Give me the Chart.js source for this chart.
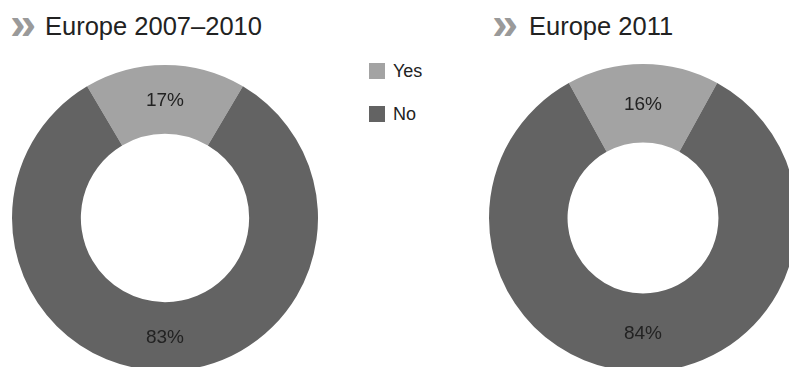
<!DOCTYPE html>
<html>
<head>
<meta charset="utf-8">
<script src="https://cdn.jsdelivr.net/npm/chart.js@4.4.1/dist/chart.umd.min.js"></script>
<style>
  html, body { margin: 0; padding: 0; background: #fff; overflow: hidden; width: 789px; height: 367px; }
  body { position: relative; font-family: "Liberation Sans", Arial, sans-serif; color: #222; }
  .chev { position: absolute; top: -1px; color: #9a9a9a; font-weight: bold; font-size: 47px; line-height: 47px; }
  .title { position: absolute; top: 13px; font-size: 25.5px; line-height: 26px; white-space: nowrap; }
  canvas { position: absolute; }
  #legend { position: absolute; left: 369px; top: 61px; font-size: 18px; }
  #legend div { height: 43px; line-height: 20px; white-space: nowrap; }
  #legend span.box { display: inline-block; width: 16px; height: 16px; vertical-align: -2px; margin-right: 8px; }
</style>
</head>
<body>
<div class="chev" style="left:10px">»</div>
<div class="title" id="t1" style="left:45px"></div>
<div class="chev" style="left:492px">»</div>
<div class="title" id="t2" style="left:529px"></div>
<div id="legend"></div>
<canvas id="chartA" width="306" height="306" style="left:12px; top:65px"></canvas>
<canvas id="chartB" width="308" height="308" style="left:489px; top:64px"></canvas>

<script>
const categories = ['Yes', 'No'];
const colors = ['#a3a3a3', '#636363'];
const titles = ['Europe 2007–2010', 'Europe 2011'];
const europe2007 = [17, 83];
const europe2011 = [16, 84];

document.getElementById('t1').textContent = titles[0];
document.getElementById('t2').textContent = titles[1];

// legend shared by both doughnuts
const legend = document.getElementById('legend');
categories.forEach(function(c, i) {
  const row = document.createElement('div');
  row.innerHTML = '<span class="box" style="background:' + colors[i] + '"></span>' + c;
  legend.appendChild(row);
});

// percent labels in the middle of each ring segment
const sliceLabels = {
  id: 'sliceLabels',
  afterDatasetsDraw(chart) {
    const ctx = chart.ctx;
    const meta = chart.getDatasetMeta(0);
    const values = chart.data.datasets[0].data;
    ctx.save();
    ctx.font = '19px "Liberation Sans", Arial, sans-serif';
    ctx.fillStyle = '#222';
    ctx.textAlign = 'center';
    ctx.textBaseline = 'middle';
    meta.data.forEach(function(arc, i) {
      const p = arc.tooltipPosition();
      ctx.fillText(values[i] + '%', p.x, p.y + 1);
    });
    ctx.restore();
  }
};

function makeDoughnut(id, values, cutout) {
  const yes = values[0] / (values[0] + values[1]) * 360;
  return new Chart(document.getElementById(id), {
    type: 'doughnut',
    data: {
      labels: categories,
      datasets: [{
        data: values,
        backgroundColor: colors,
        borderWidth: 0
      }]
    },
    options: {
      responsive: false,
      animation: false,
      cutout: cutout,
      rotation: -yes / 2,
      layout: { padding: 0 },
      plugins: {
        legend: { display: false },
        tooltip: { enabled: false }
      }
    },
    plugins: [sliceLabels]
  });
}

makeDoughnut('chartA', europe2007, '55%');
makeDoughnut('chartB', europe2011, '49%');
</script>
</body>
</html>
